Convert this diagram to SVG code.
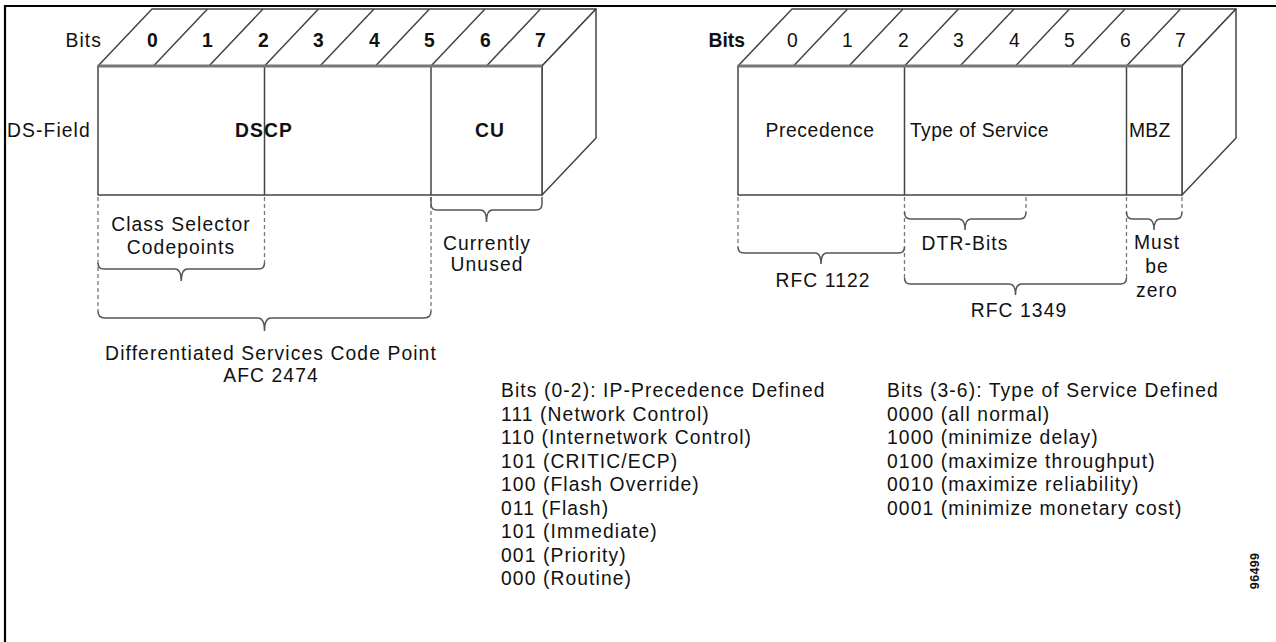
<svg xmlns="http://www.w3.org/2000/svg" width="1276" height="642" viewBox="0 0 1276 642">
<style>
.t{font-family:"Liberation Sans",Arial,Helvetica,sans-serif;font-size:19.3px;letter-spacing:1.1px;fill:#111}
.b{font-weight:bold}
.m{text-anchor:middle}
.e{text-anchor:end}
.face{fill:#fff;stroke:#444;stroke-width:1.5;stroke-linejoin:round}
.edge{fill:none;stroke:#444;stroke-width:1.5}
.top{fill:none;stroke:#777;stroke-width:3}
.dash{fill:none;stroke:#777;stroke-width:1.3;stroke-dasharray:4 3}
.brace{fill:none;stroke:#555;stroke-width:1.5}
</style>
<rect width="1276" height="642" fill="#fff"/>
<path d="M5,642 V6 H1276" fill="none" stroke="#000" stroke-width="2.2"/>

<g id="ds-field">
  <text class="t" x="7" y="137">DS-Field</text>
  <text class="t e" x="102" y="47">Bits</text>
  <polygon class="face" points="98,66 152,9 596,9 542,66"/>
  <polygon class="face" points="542,66 596,9 596,138 542,195"/>
  <rect class="face" x="98" y="66" width="444" height="129"/>
  <path class="edge" d="M153.5,66 L207.5,9 M209,66 L263,9 M264.5,66 L318.5,9 M320,66 L374,9 M375.5,66 L429.5,9 M431,66 L485,9 M486.5,66 L540.5,9 M264.5,66 V195 M431,66 V195"/>
  <path class="top" d="M98,66 H542"/>
  <text class="t b m" x="153" y="47">0</text>
  <text class="t b m" x="208" y="47">1</text>
  <text class="t b m" x="264" y="47">2</text>
  <text class="t b m" x="319" y="47">3</text>
  <text class="t b m" x="375" y="47">4</text>
  <text class="t b m" x="430" y="47">5</text>
  <text class="t b m" x="486" y="47">6</text>
  <text class="t b m" x="541" y="47">7</text>
  <text class="t b m" x="264" y="137">DSCP</text>
  <text class="t b m" x="490" y="137">CU</text>
</g>

<g id="tos-field">
  <text class="t b e" x="745" y="47" style="letter-spacing:0">Bits</text>
  <polygon class="face" points="738,66 792,9 1236,9 1182,66"/>
  <polygon class="face" points="1182,66 1236,9 1236,138 1182,195"/>
  <rect class="face" x="738" y="66" width="444" height="129"/>
  <path class="edge" d="M793.5,66 L847.5,9 M849,66 L903,9 M904.5,66 L958.5,9 M960,66 L1014,9 M1015.5,66 L1069.5,9 M1071,66 L1125,9 M1126.5,66 L1180.5,9 M904.5,66 V195 M1126.5,66 V195"/>
  <path class="top" d="M738,66 H1182"/>
  <text class="t m" x="793" y="47">0</text>
  <text class="t m" x="848" y="47">1</text>
  <text class="t m" x="904" y="47">2</text>
  <text class="t m" x="959" y="47">3</text>
  <text class="t m" x="1015" y="47">4</text>
  <text class="t m" x="1070" y="47">5</text>
  <text class="t m" x="1126" y="47">6</text>
  <text class="t m" x="1181" y="47">7</text>
  <text class="t m" x="820" y="137" style="letter-spacing:0.6px">Precedence</text>
  <text class="t" x="910" y="137" style="letter-spacing:0.4px">Type of Service</text>
  <text class="t" x="1129" y="137" style="letter-spacing:0.3px">MBZ</text>
</g>

<g id="braces">
  <path class="dash" d="M98,197 V311 M264.5,197 V263 M431,197 V311"/>
  <path class="brace" d="M98,263 Q98,269 104,269 H175 Q181,269 181.25,281 Q181.5,269 187.5,269 H258.5 Q264.5,269 264.5,263"/>
  <path class="brace" d="M98,311 Q98,318 105,318 H258 Q264.5,318 264.5,331 Q264.5,318 271,318 H424 Q431,318 431,311"/>
  <path class="brace" d="M431,197 V204 Q431,210 437,210 H480.5 Q486.5,210 486.5,222 Q486.5,210 492.5,210 H536 Q542,210 542,204 V197"/>
  <path class="dash" d="M738,197 V247 M904.5,197 V278 M1026,197 V212 M1126.5,197 V278 M1182,197 V212"/>
  <path class="brace" d="M738,247 Q738,253 744,253 H815 Q821,253 821,264 Q821,253 827,253 H898.5 Q904.5,253 904.5,247"/>
  <path class="brace" d="M904.5,212 Q904.5,219 910.5,219 H959 Q965,219 965,230 Q965,219 971,219 H1020 Q1026,219 1026,212"/>
  <path class="brace" d="M904.5,278 Q904.5,284 910.5,284 H1009.5 Q1015.5,284 1015.5,295 Q1015.5,284 1021.5,284 H1120.5 Q1126.5,284 1126.5,278"/>
  <path class="brace" d="M1126.5,212 Q1126.5,219 1132.5,219 H1148 Q1154,219 1154,230 Q1154,219 1160,219 H1176 Q1182,219 1182,212"/>
</g>

<g id="brace-labels">
  <text class="t m" x="181" y="231">Class Selector</text>
  <text class="t m" x="181" y="254">Codepoints</text>
  <text class="t m" x="487" y="250">Currently</text>
  <text class="t m" x="487" y="271">Unused</text>
  <text class="t m" x="271" y="360">Differentiated Services Code Point</text>
  <text class="t m" x="271" y="382">AFC 2474</text>
  <text class="t m" x="965" y="250">DTR-Bits</text>
  <text class="t m" x="823" y="287">RFC 1122</text>
  <text class="t m" x="1019" y="317">RFC 1349</text>
  <text class="t m" x="1157" y="249">Must</text>
  <text class="t m" x="1157" y="273">be</text>
  <text class="t m" x="1157" y="297">zero</text>
</g>

<g id="precedence-list">
  <text class="t" x="501" y="397">Bits (0-2): IP-Precedence Defined</text>
  <text class="t" x="501" y="420.5">111 (Network Control)</text>
  <text class="t" x="501" y="444">110 (Internetwork Control)</text>
  <text class="t" x="501" y="467.5">101 (CRITIC/ECP)</text>
  <text class="t" x="501" y="491">100 (Flash Override)</text>
  <text class="t" x="501" y="514.5">011 (Flash)</text>
  <text class="t" x="501" y="538">101 (Immediate)</text>
  <text class="t" x="501" y="561.5">001 (Priority)</text>
  <text class="t" x="501" y="585">000 (Routine)</text>
</g>

<g id="tos-list">
  <text class="t" x="887" y="397">Bits (3-6): Type of Service Defined</text>
  <text class="t" x="887" y="420.5">0000 (all normal)</text>
  <text class="t" x="887" y="444">1000 (minimize delay)</text>
  <text class="t" x="887" y="467.5">0100 (maximize throughput)</text>
  <text class="t" x="887" y="491">0010 (maximize reliability)</text>
  <text class="t" x="887" y="514.5">0001 (minimize monetary cost)</text>
</g>

<text class="t b m" transform="translate(1259,571) rotate(-90)" style="font-size:12.5px;letter-spacing:0.3px">96499</text>
</svg>
